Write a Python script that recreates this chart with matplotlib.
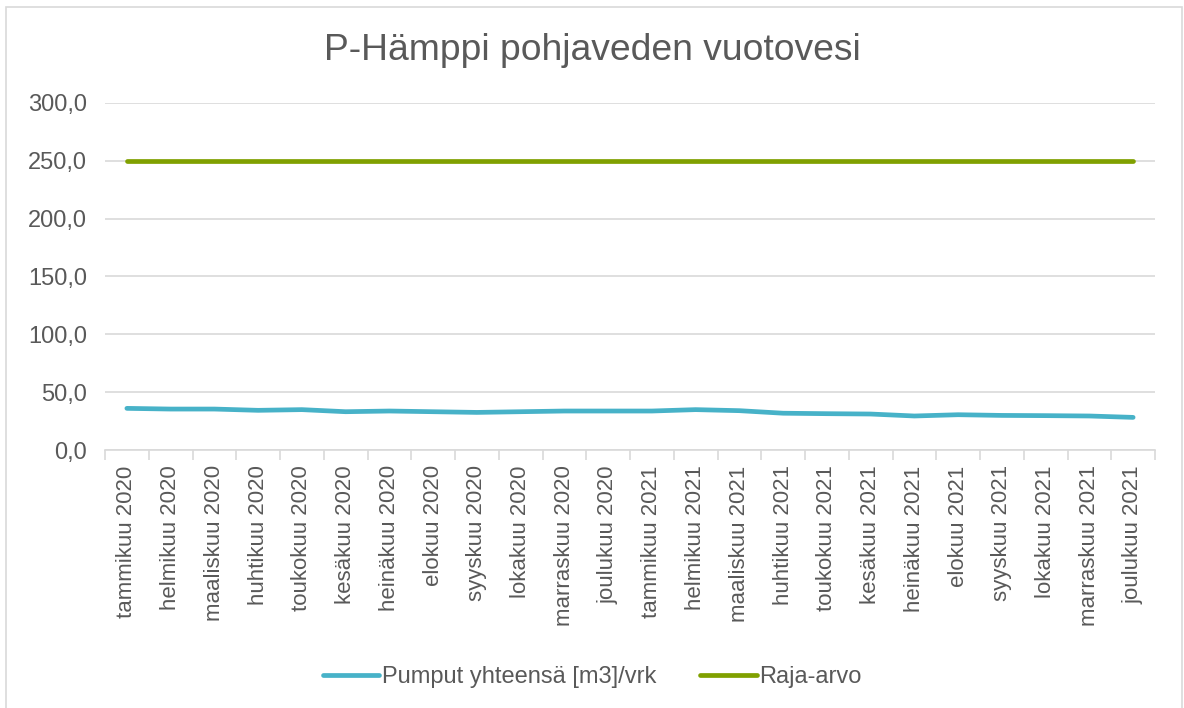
import numpy as np
import matplotlib
matplotlib.use('Agg')
import matplotlib.pyplot as plt
from matplotlib.patches import Rectangle

plt.rcParams['font.family'] = ['Liberation Sans', 'DejaVu Sans']

months = ["tammikuu", "helmikuu", "maaliskuu", "huhtikuu", "toukokuu", "kesäkuu",
          "heinäkuu", "elokuu", "syyskuu", "lokakuu", "marraskuu", "joulukuu"]
labels = [f"{m} 2020" for m in months] + [f"{m} 2021" for m in months]

pumput = [36.0, 35.4, 35.4, 34.3, 34.9, 33.1, 33.7, 33.1, 32.5, 33.1, 33.7, 33.7,
          33.7, 34.9, 34.0, 31.8, 31.4, 31.1, 29.4, 30.5, 29.9, 29.7, 29.4, 28.2]
raja_arvo = [250.0] * 24

grey = '#595959'
fig = plt.figure(figsize=(11.84, 7.08), dpi=100)
ax = fig.add_axes([105 / 1184, 1 - 450 / 708, 1050 / 1184, 347 / 708])

x = np.arange(len(labels))
ax.plot(x, pumput, color='#47B2C8', lw=3.4, solid_capstyle='round',
        label='Pumput yhteensä [m3]/vrk', zorder=3)
ax.plot(x, raja_arvo, color='#80A000', lw=3.4, solid_capstyle='round',
        label='Raja-arvo', zorder=3)

ax.set_xlim(-0.5, len(labels) - 0.5)
ax.set_ylim(0, 300)
ax.set_yticks(np.arange(0, 301, 50))
ax.set_yticklabels([f"{v:.1f}".replace('.', ',') for v in np.arange(0, 301, 50)])
ax.set_xticks(x)
ax.set_xticklabels(labels, rotation=90)
ax.set_xticks(np.arange(-0.5, len(labels)), minor=True)
ax.tick_params(axis='x', which='major', length=0, pad=11, labelsize=16, colors=grey)
ax.tick_params(axis='x', which='minor', length=7, color='#d9d9d9', width=1.2)
ax.tick_params(axis='y', length=0, pad=13, labelsize=17, colors=grey)

ax.grid(axis='y', color='#d9d9d9', lw=1.2)
ax.set_axisbelow(True)
for s in ['top', 'right', 'left']:
    ax.spines[s].set_visible(False)
ax.spines['bottom'].set_color('#d9d9d9')
ax.spines['bottom'].set_linewidth(1.2)

fig.text(0.5, 1 - 50 / 708, 'P-Hämppi pohjaveden vuotovesi', ha='center', va='center',
         fontsize=26.8, color=grey)

fig.legend(loc='center', bbox_to_anchor=(0.5, 1 - 677 / 708), ncol=2, frameon=False,
           fontsize=17, labelcolor=grey, handlelength=2.4, handletextpad=0.1,
           columnspacing=1.85)

fig.patches.append(Rectangle((6 / 1184, -0.02), 1176 / 1184, 1 - 7 / 708 + 0.02,
                             transform=fig.transFigure, fill=False,
                             edgecolor='#d9d9d9', lw=1.2))

fig.savefig('out.png', dpi=100)
